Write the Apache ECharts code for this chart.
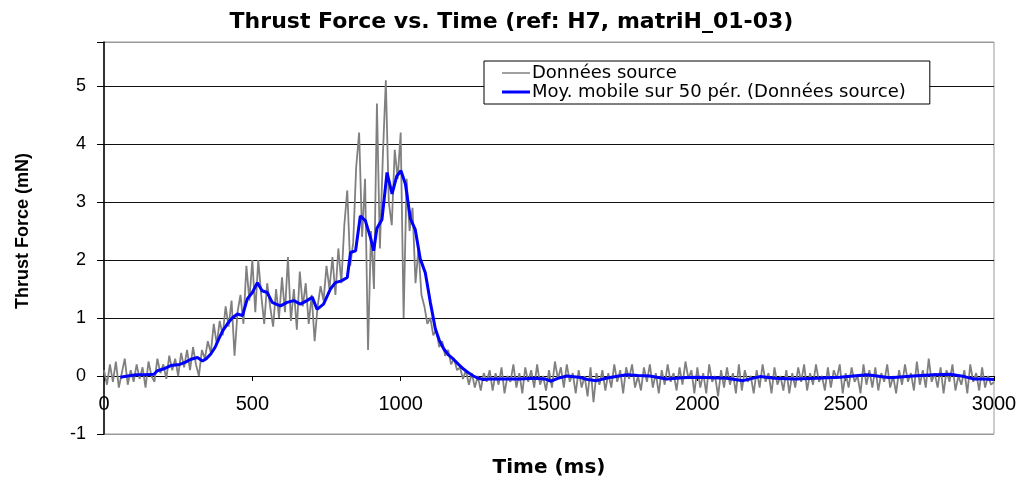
<!DOCTYPE html>
<html>
<head>
<meta charset="utf-8">
<title>Thrust Force vs. Time</title>
<script src="https://cdn.jsdelivr.net/npm/echarts@6/dist/echarts.min.js"></script>
<style>
  html, body { margin: 0; padding: 0; background: #fff; }
  #chart { width: 1023px; height: 482px; }
</style>
</head>
<body>
<div id="chart"></div>
<script>
// Raw thrust samples (mN), one every RAW_STEP_MS starting at 0 ms
const RAW_STEP_MS = 10;
const rawValues = [
  0.1, -0.15, 0.2, -0.1, 0.25, -0.2, 0.05, 0.3, -0.15, 0.1,
  -0.1, 0.2, -0.05, 0.15, -0.2, 0.25, 0.0, -0.1, 0.3, 0.05,
  0.2, -0.05, 0.35, 0.1, 0.3, 0.0, 0.4, 0.15, 0.45, 0.1,
  0.5, 0.2, 0.0, 0.45, 0.3, 0.6, 0.4, 0.9, 0.55, 0.95,
  0.7, 1.2, 0.85, 1.3, 0.35, 1.1, 1.4, 0.9, 1.9, 1.3,
  2.0, 1.1, 2.0, 1.4, 0.9, 1.6, 1.2, 0.85, 1.5, 1.0,
  1.7, 1.1, 2.05, 0.95, 1.5, 0.8, 1.8, 1.2, 1.6, 0.9,
  1.4, 0.6, 1.2, 1.55, 1.3, 1.9, 1.5, 2.05, 1.4, 2.2,
  1.6, 2.6, 3.2, 1.9, 2.3, 3.6, 4.2, 2.4, 3.4, 0.45,
  2.5, 1.5, 4.7, 2.2, 3.8, 5.1, 3.0, 2.6, 3.9, 3.4,
  4.2, 1.0, 3.4, 2.5, 2.9, 1.6, 2.2, 1.4, 1.2, 0.9,
  1.0, 0.7, 0.8, 0.5, 0.6, 0.35, 0.45, 0.2, 0.3, 0.1,
  0.15, -0.05, 0.1, -0.15, 0.05, -0.2, 0.0, -0.25, 0.05, -0.1,
  0.1, -0.25, 0.05, -0.15, 0.15, -0.3, 0.0, -0.1, 0.2, -0.2,
  0.05, -0.3, 0.15, -0.1, 0.1, -0.2, 0.2, -0.15, 0.0, -0.25,
  0.1, -0.2, 0.25, -0.05, 0.15, -0.2, 0.2, -0.1, 0.05, -0.3,
  0.1, -0.2, 0.0, -0.35, 0.15, -0.45, 0.05, -0.15, 0.1, -0.25,
  0.05, -0.2, 0.2, -0.1, 0.1, -0.3, 0.15, -0.05, 0.2, -0.2,
  0.0, -0.25, 0.15, -0.1, 0.2, -0.2, 0.05, -0.3, 0.1, -0.15,
  0.2, -0.1, 0.05, -0.25, 0.15, -0.15, 0.25, -0.05, 0.1, -0.3,
  0.15, -0.2, 0.05, -0.3, 0.2, -0.1, 0.0, -0.35, 0.1, -0.2,
  0.15, -0.15, 0.05, -0.3, 0.2, -0.25, 0.1, -0.1, 0.0, -0.3,
  0.1, -0.2, 0.2, -0.1, 0.05, -0.3, 0.15, -0.15, 0.0, -0.25,
  0.1, -0.3, 0.05, -0.2, 0.15, -0.1, 0.2, -0.25, 0.05, -0.15,
  0.2, -0.1, 0.0, -0.25, 0.15, -0.2, 0.1, -0.05, 0.2, -0.3,
  0.05, -0.2, 0.15, -0.1, 0.0, -0.3, 0.2, -0.15, 0.1, -0.2,
  0.15, -0.25, 0.05, -0.1, 0.2, -0.2, 0.0, -0.3, 0.1, -0.15,
  0.2, -0.1, 0.05, -0.25, 0.25, -0.15, 0.1, -0.2, 0.3, -0.1,
  0.05, -0.2, 0.15, -0.3, 0.1, -0.1, 0.2, -0.25, 0.0, -0.15,
  0.1, -0.3, 0.2, -0.1, 0.05, -0.25, 0.15, -0.2, 0.0, -0.15,
  -0.1
];

// 50-period moving average: sample times (ms) and values (mN)
const avgTimes = [
  55, 80, 110, 140, 168, 180, 200, 225, 255, 275,
  293, 315, 332, 345, 360, 375, 387, 400, 416, 432,
  450, 467, 483, 500, 517, 533, 550, 567, 580, 595,
  617, 640, 662, 684, 702, 718, 740, 763, 780, 800,
  820, 831, 848, 864, 881, 898, 909, 920, 937, 954,
  971, 987, 1001, 1016, 1033, 1049, 1066, 1083, 1100, 1117,
  1130, 1145, 1160, 1178, 1195, 1212, 1230, 1245, 1262, 1279,
  1300, 1350, 1400, 1450, 1487, 1505, 1530, 1560, 1600, 1630,
  1660, 1700, 1762, 1800, 1840, 1897, 1950, 2000, 2050, 2100,
  2154, 2211, 2260, 2330, 2400, 2480, 2572, 2650, 2727, 2794,
  2852, 2900, 2930, 2970, 3000
];
const avgValues = [
  -0.02, 0.0, 0.02, 0.02, 0.03, 0.09, 0.12, 0.18, 0.2, 0.24,
  0.29, 0.32, 0.26, 0.3, 0.38, 0.5, 0.64, 0.78, 0.9, 1.0,
  1.07, 1.04, 1.33, 1.44, 1.61, 1.47, 1.44, 1.27, 1.24, 1.21,
  1.27, 1.3, 1.24, 1.3, 1.36, 1.15, 1.24, 1.5, 1.61, 1.64,
  1.7, 2.13, 2.16, 2.76, 2.68, 2.39, 2.16, 2.55, 2.7, 3.51,
  3.14, 3.45, 3.54, 3.31, 2.71, 2.53, 2.02, 1.78, 1.27, 0.81,
  0.62, 0.47, 0.37, 0.29, 0.2, 0.12, 0.05, 0.0, -0.04, -0.06,
  -0.05, -0.05, -0.05, -0.04, -0.05, -0.09, -0.04, 0.0, -0.02, -0.06,
  -0.08, -0.03, 0.02, 0.01, 0.0, -0.05, -0.03, -0.02, -0.03, -0.04,
  -0.08, -0.01, -0.04, -0.05, -0.04, -0.02, 0.02, -0.03, 0.0, 0.02,
  0.03, -0.01, -0.05, -0.05, -0.06
];

const titleText = 'Thrust Force vs. Time (ref: H7, matriH_01-03)';
const xAxisName = 'Time (ms)';
const yAxisName = 'Thrust Force (mN)';
const rawName = 'Données source';
const avgName = 'Moy. mobile sur 50 pér. (Données source)';

const rawData = rawValues.map((v, i) => [i * RAW_STEP_MS, v]);
const avgData = avgTimes.map((t, i) => [t, avgValues[i]]);

const FONT = "'Liberation Sans', Arial, sans-serif";
const WIDE = "'DejaVu Sans', 'Liberation Sans', sans-serif";

// Plot box in pixels; the time axis sits on the zero line (y = -1..5.76)
const GRID = { left: 104, right: 29, top: 42, bottom: 48 };
const Y_MIN = -1, Y_MAX = 5.76;
const plotHeight = 482 - GRID.top - GRID.bottom;
const zeroLift = plotHeight * (0 - Y_MIN) / (Y_MAX - Y_MIN);

const chart = echarts.init(document.getElementById('chart'), null, { renderer: 'canvas' });
chart.setOption({
  animation: false,
  backgroundColor: '#ffffff',
  title: {
    text: titleText,
    left: 'center',
    top: 6,
    textStyle: { fontFamily: WIDE, fontWeight: 'bold', fontSize: 22, color: '#000' }
  },
  legend: {
    orient: 'vertical',
    left: 484,
    top: 61,
    padding: [3, 24, 3, 18],
    itemGap: 1,
    itemWidth: 28,
    itemHeight: 16,
    backgroundColor: '#ffffff',
    borderColor: '#000',
    borderWidth: 1,
    textStyle: { fontFamily: WIDE, fontSize: 18, color: '#000', padding: [0, 0, 0, -3] },
    data: [
      { name: rawName, icon: 'path://M0,0h28v1.5h-28z' },
      { name: avgName, icon: 'path://M0,0h28v3h-28z' }
    ]
  },
  grid: {
    left: GRID.left, right: GRID.right, top: GRID.top, bottom: GRID.bottom,
    outerBoundsMode: 'none',
    containLabel: false,
    show: true, borderColor: '#999', borderWidth: 1, backgroundColor: 'transparent'
  },
  xAxis: {
    type: 'value',
    min: 0, max: 3000, interval: 500,
    offset: -zeroLift,
    name: xAxisName,
    nameLocation: 'middle',
    nameGap: 82,
    nameTextStyle: { fontFamily: WIDE, fontWeight: 'bold', fontSize: 20, color: '#000' },
    axisLine: { onZero: false, lineStyle: { color: '#000', width: 1 } },
    axisTick: { show: true, length: 5, lineStyle: { color: '#000' } },
    axisLabel: { fontFamily: FONT, fontSize: 20, color: '#000', margin: 18, formatter: v => String(v) },
    splitLine: { show: false }
  },
  yAxis: {
    type: 'value',
    min: Y_MIN, max: Y_MAX, interval: 1,
    name: yAxisName,
    nameLocation: 'middle',
    nameGap: 72,
    nameTextStyle: { fontFamily: FONT, fontWeight: 'bold', fontSize: 18, color: '#000', padding: [0, 0, 0, 14] },
    axisLine: { show: true, onZero: false, lineStyle: { color: '#000', width: 1.5 } },
    axisTick: { show: true, length: 7, lineStyle: { color: '#000' } },
    axisLabel: {
      fontFamily: FONT, fontSize: 18, color: '#000', margin: 18,
      formatter: v => (Number.isInteger(v) ? String(v) : '')
    },
    splitLine: {
      show: true,
      lineStyle: { color: ['#999', '#111', '#111', '#111', '#111', '#111', '#111', '#999'], width: 1 }
    }
  },
  series: [
    {
      name: rawName,
      type: 'line',
      data: rawData,
      symbol: 'none',
      lineStyle: { color: '#808080', width: 1.8 },
      itemStyle: { color: '#808080' },
      z: 2
    },
    {
      name: avgName,
      type: 'line',
      data: avgData,
      symbol: 'none',
      lineStyle: { color: '#0000ff', width: 3 },
      itemStyle: { color: '#0000ff' },
      z: 3
    }
  ]
});
</script>
</body>
</html>
